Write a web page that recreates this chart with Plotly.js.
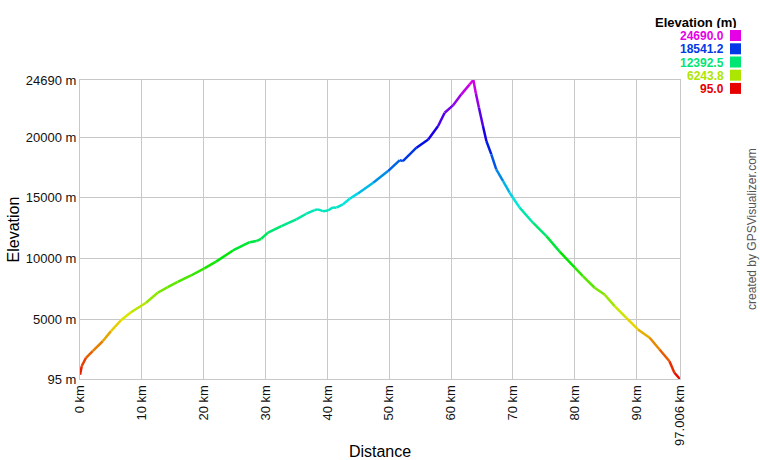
<!DOCTYPE html>
<html>
<head>
<meta charset="utf-8">
<script src="https://cdn.plot.ly/plotly-3.0.1.min.js"></script>
<style>html,body{margin:0;padding:0;background:#fff;}#chart{width:760px;height:460px;}</style>
</head>
<body>
<div id="chart"></div>
<script>
var distanceKm = [0, 0.28, 0.97, 2.05, 3.67, 5.01, 6.63, 8.24, 10.67, 12.56, 14.18, 15.79, 17.95, 20.1, 22.0,
  24.73, 27.43, 28.5, 29.3, 30.39, 32.56, 34.98, 36.6, 37.94, 38.47, 39.28, 40.1, 40.9, 41.45, 42.5, 43.6, 44.94,
  47.4, 49.8, 51.7, 52.2, 54.4, 56.3, 57.9, 58.96, 60.3, 61.65, 63.0, 63.6, 64.0, 64.5, 65.15, 65.7, 66.5, 67.3,
  68.4, 69.46, 70.0, 71.08, 73.23, 75.4, 77.55, 80.0, 81.3, 83.2, 84.8, 86.44, 88.33, 90.2, 92.1, 93.7, 95.3,
  96.1, 97.006];
var elevationM = [450, 1150, 1840, 2380, 3200, 4030, 4930, 5590, 6370, 7190, 7650, 8090, 8610, 9190, 9750,
  10670, 11350, 11440, 11630, 12130, 12670, 13220, 13690, 13990, 14050, 13900, 13960, 14210, 14190, 14460, 14920, 15360,
  16240, 17200, 18100, 18020, 19120, 19800, 20900, 22000, 22600, 23510, 24330, 24690, 23600, 22400, 20900, 19670, 18570, 17340,
  16370, 15420, 15010, 14190, 12950, 11850, 10570, 9250, 8560, 7600, 7050, 6090, 5130, 4170, 3490, 2520, 1560,
  610, 95];

var xTickVals = [0, 10, 20, 30, 40, 50, 60, 70, 80, 90, 97.006];
var xTickText = ["0 km", "10 km", "20 km", "30 km", "40 km", "50 km", "60 km", "70 km", "80 km", "90 km", "97.006 km"];
var yTickVals = [95, 5000, 10000, 15000, 20000, 24690];
var yTickText = ["95 m", "5000 m", "10000 m", "15000 m", "20000 m", "24690 m"];
var legendVals = [24690.0, 18541.2, 12392.5, 6243.8, 95.0];
var legendText = ["24690.0", "18541.2", "12392.5", "6243.8", "95.0"];

var eMin = 95, eMax = 24690;
function hsv(h, s, v) {
  var c = v * s, hp = h / 60, x = c * (1 - Math.abs(hp % 2 - 1)), r = 0, g = 0, b = 0;
  if (hp < 1) { r = c; g = x; } else if (hp < 2) { r = x; g = c; } else if (hp < 3) { g = c; b = x; }
  else if (hp < 4) { g = x; b = c; } else if (hp < 5) { r = x; b = c; } else { r = c; b = x; }
  var m = v - c;
  return 'rgb(' + Math.round((r + m) * 255) + ',' + Math.round((g + m) * 255) + ',' + Math.round((b + m) * 255) + ')';
}
function elevColor(e) {
  var t = Math.max(0, Math.min(1, (e - eMin) / (eMax - eMin)));
  return hsv(300 * t, 1, 0.9);
}

var traces = [];
for (var i = 0; i < distanceKm.length - 1; i++) {
  traces.push({
    type: 'scatter', mode: 'lines',
    x: [distanceKm[i], distanceKm[i + 1]],
    y: [elevationM[i], elevationM[i + 1]],
    line: { color: elevColor((elevationM[i] + elevationM[i + 1]) / 2), width: 2.5 },
    showlegend: false, hoverinfo: 'skip'
  });
}

var plotTop = 80, plotH = 299, plotL = 80, plotW = 600;
function px2x(p) { return (p - plotL) / plotW; }
function px2y(p) { return (plotTop + plotH - p) / plotH; }

var annotations = [{
  xref: 'paper', yref: 'paper', x: px2x(738), y: px2y(21.5), xanchor: 'right', yanchor: 'middle',
  height: 12, borderpad: 0, valign: 'middle',
  text: '<b>Elevation (m)</b>', showarrow: false, font: { family: 'Liberation Sans, Arial, sans-serif', size: 13, color: '#000' }
}, {
  xref: 'paper', yref: 'paper', x: px2x(752), y: px2y(229), xanchor: 'center', yanchor: 'middle',
  text: 'created by GPSVisualizer.com', textangle: -90, showarrow: false,
  font: { family: 'Liberation Sans, Arial, sans-serif', size: 12, color: '#555' }
}];
var shapes = [];
var rowY = [35.5, 48.8, 62, 75.2, 88.4];
for (var k = 0; k < legendVals.length; k++) {
  var col = elevColor(legendVals[k]);
  annotations.push({
    xref: 'paper', yref: 'paper', x: px2x(725), y: px2y(rowY[k]), xanchor: 'right', yanchor: 'middle',
    height: 11, borderpad: 0, valign: 'middle',
    text: '<b>' + legendText[k] + '</b>', showarrow: false,
    font: { family: 'Liberation Sans, Arial, sans-serif', size: 12, color: col }
  });
  shapes.push({
    type: 'rect', xref: 'paper', yref: 'paper',
    x0: px2x(730), x1: px2x(741), y0: px2y(rowY[k] + 5.5), y1: px2y(rowY[k] - 5.5),
    line: { width: 0 }, fillcolor: col
  });
}

var layout = {
  width: 760, height: 460,
  margin: { l: 80, r: 80, t: 80, b: 81, pad: 0 },
  paper_bgcolor: '#fff', plot_bgcolor: '#fff',
  font: { family: 'Liberation Sans, Arial, sans-serif', size: 13, color: '#111' },
  xaxis: {
    range: [0, 97.006], tickmode: 'array', tickvals: xTickVals, ticktext: xTickText, tickangle: -90,
    showgrid: true, gridcolor: '#c8c8c8', gridwidth: 1, zeroline: false,
    showline: true, mirror: true, linecolor: '#c8c8c8', linewidth: 1, ticks: '',
    title: { text: 'Distance', font: { size: 16, color: '#000' }, standoff: 8 }
  },
  yaxis: {
    range: [95, 24690], tickmode: 'array', tickvals: yTickVals, ticktext: yTickText,
    showgrid: true, gridcolor: '#c8c8c8', gridwidth: 1, zeroline: false,
    showline: true, mirror: true, linecolor: '#c8c8c8', linewidth: 1, ticks: '',
    title: { text: 'Elevation', font: { size: 16, color: '#000' }, standoff: 2 }
  },
  annotations: annotations,
  shapes: shapes
};

Plotly.newPlot('chart', traces, layout, { staticPlot: true, displayModeBar: false });
</script>
</body>
</html>
